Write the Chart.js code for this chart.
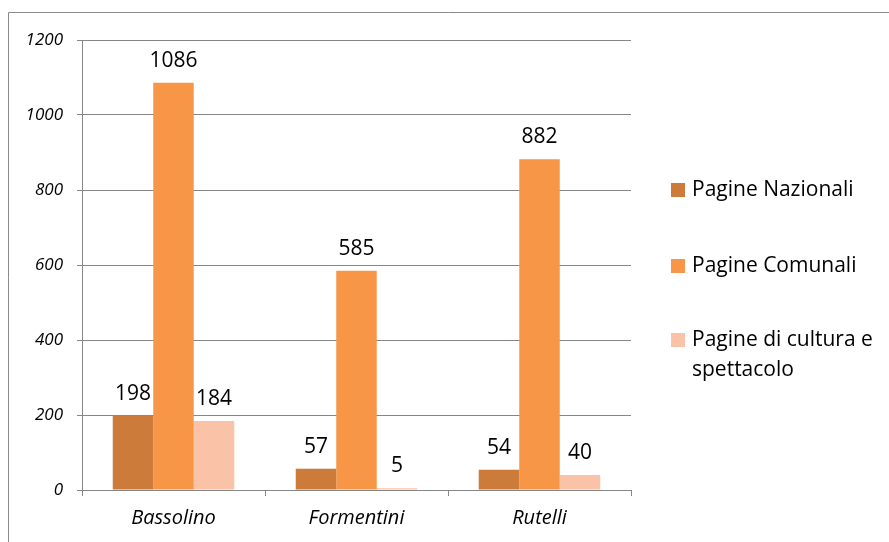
<!DOCTYPE html>
<html><head><meta charset="utf-8">
<script src="https://cdn.jsdelivr.net/npm/chart.js@4.4.1/dist/chart.umd.min.js"></script>
<style>
html,body{margin:0;padding:0;background:#fff;}
#wrap{position:relative;width:889px;height:542px;}
</style></head><body>
<div id="wrap"><canvas id="c" width="889" height="542"></canvas></div>
<script>
const categories = ['Bassolino', 'Formentini', 'Rutelli'];
const seriesNames = ['Pagine Nazionali', 'Pagine Comunali', 'Pagine di cultura e spettacolo'];
const pagineNazionali = [198, 57, 54];
const pagineComunali = [1086, 585, 882];
const pagineCultura = [184, 5, 40];
const yTicks = [0, 200, 400, 600, 800, 1000, 1200];
const colors = ['#CD7B3A', '#F79646', '#FAC3A8'];
const legendLines = [['Pagine Nazionali'], ['Pagine Comunali'], ['Pagine di cultura e', 'spettacolo']];

const FONT = "'Open Sans', 'Noto Sans', sans-serif";
const GRID = '#868686';

const framePlugin = {
  id: 'frame',
  beforeDraw(chart) {
    const ctx = chart.ctx;
    ctx.save();
    ctx.strokeStyle = '#8a8a8a';
    ctx.lineWidth = 1;
    ctx.beginPath();
    ctx.moveTo(8.5, 542);
    ctx.lineTo(8.5, 12.5);
    ctx.lineTo(889, 12.5);
    ctx.stroke();
    ctx.restore();
  }
};

const labelPlugin = {
  id: 'valueLabels',
  afterDatasetsDraw(chart) {
    const ctx = chart.ctx;
    ctx.save();
    ctx.font = "21px " + FONT;
    ctx.fillStyle = '#000';
    ctx.textAlign = 'center';
    ctx.textBaseline = 'alphabetic';
    chart.data.datasets.forEach((ds, i) => {
      const meta = chart.getDatasetMeta(i);
      meta.data.forEach((bar, j) => {
        ctx.fillText(String(ds.data[j]), bar.x, bar.y - 16);
      });
    });
    ctx.restore();
  }
};

const legendPlugin = {
  id: 'sideLegend',
  afterDraw(chart) {
    const ctx = chart.ctx;
    ctx.save();
    ctx.font = "21px " + FONT;
    ctx.textBaseline = 'middle';
    ctx.textAlign = 'left';
    const ys = [190, 266, 340];
    chart.data.datasets.forEach((ds, i) => {
      ctx.fillStyle = ds.backgroundColor;
      ctx.fillRect(671, ys[i] - 7, 14, 14);
      ctx.fillStyle = '#000';
      legendLines[i].forEach((line, k) => {
        ctx.fillText(line, 692, ys[i] + k * 30);
      });
    });
    ctx.restore();
  }
};

new Chart(document.getElementById('c'), {
  type: 'bar',
  data: {
    labels: categories,
    datasets: [
      { label: seriesNames[0], data: pagineNazionali, backgroundColor: colors[0] },
      { label: seriesNames[1], data: pagineComunali, backgroundColor: colors[1] },
      { label: seriesNames[2], data: pagineCultura, backgroundColor: colors[2] }
    ]
  },
  options: {
    responsive: false,
    animation: false,
    devicePixelRatio: 1,
    layout: { padding: { left: 10, right: 258, top: 40, bottom: 0 } },
    plugins: { legend: { display: false }, tooltip: { enabled: false } },
    datasets: { bar: { categoryPercentage: 0.664, barPercentage: 1.0, borderWidth: 0 } },
    scales: {
      x: {
        offset: true,
        grid: { offset: true, drawOnChartArea: false, drawTicks: true, tickLength: 6, color: GRID, lineWidth: 1 },
        border: { display: true, color: GRID, width: 1 },
        ticks: { font: { family: FONT, size: 20, style: 'italic' }, color: '#000', padding: 10 },
        afterFit(s) { s.height = 52; }
      },
      y: {
        min: 0, max: 1200,
        afterBuildTicks(s) { s.ticks = yTicks.map(v => ({ value: v })); },
        grid: { color: GRID, lineWidth: 1, tickLength: 5, drawTicks: true },
        border: { display: true, color: GRID, width: 1 },
        ticks: { font: { family: FONT, size: 17, style: 'italic' }, color: '#000', padding: 14,
                 callback: v => String(v) },
        afterFit(s) { s.width = 72; }
      }
    }
  },
  plugins: [framePlugin, labelPlugin, legendPlugin]
});
</script>
</body></html>
